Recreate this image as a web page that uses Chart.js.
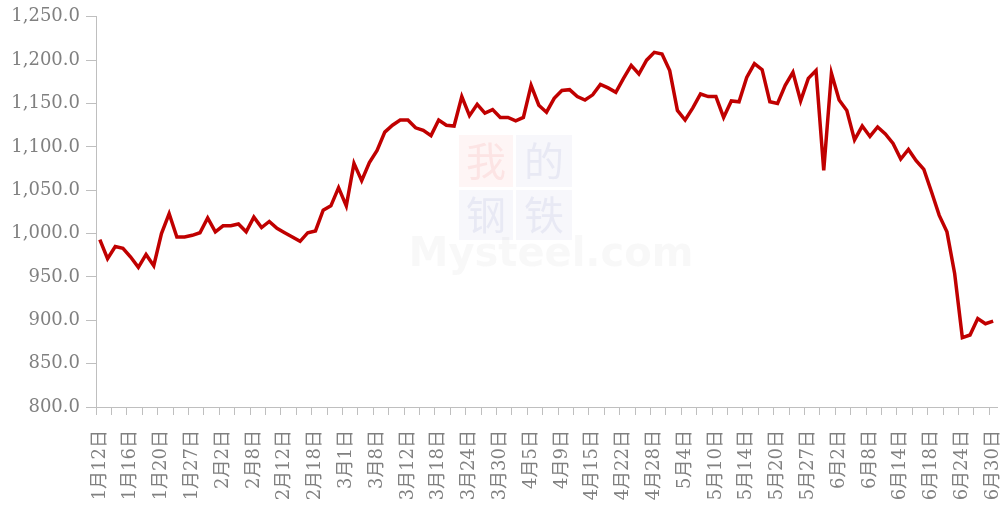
<!DOCTYPE html>
<html>
<head>
<meta charset="utf-8">
<script src="https://cdn.jsdelivr.net/npm/chart.js@4"></script>
<style>
  html, body { margin: 0; padding: 0; background: #fff; }
  #wrap { width: 1007px; height: 509px; position: relative; }
</style>
</head>
<body>
<div id="wrap"><canvas id="price"></canvas></div>
<script>
// 日期（每4个显示一个）
const dates = [
  '1月12日','1月13日','1月14日','1月15日','1月16日','1月17日','1月18日','1月19日',
  '1月20日','1月21日','1月22日','1月25日','1月27日','1月28日','1月29日','2月1日',
  '2月2日','2月3日','2月4日','2月5日','2月8日','2月9日','2月10日','2月11日',
  '2月12日','2月13日','2月16日','2月17日','2月18日','2月22日','2月24日','2月26日',
  '3月1日','3月2日','3月4日','3月5日','3月8日','3月9日','3月10日','3月11日',
  '3月12日','3月15日','3月16日','3月17日','3月18日','3月19日','3月22日','3月23日',
  '3月24日','3月25日','3月26日','3月29日','3月30日','3月31日','4月1日','4月2日',
  '4月5日','4月6日','4月7日','4月8日','4月9日','4月12日','4月13日','4月14日',
  '4月15日','4月16日','4月19日','4月21日','4月22日','4月23日','4月26日','4月27日',
  '4月28日','4月29日','4月30日','5月3日','5月4日','5月6日','5月7日','5月8日',
  '5月10日','5月11日','5月12日','5月13日','5月14日','5月17日','5月18日','5月19日',
  '5月20日','5月21日','5月24日','5月26日','5月27日','5月28日','5月31日','6月1日',
  '6月2日','6月3日','6月4日','6月7日','6月8日','6月9日','6月10日','6月11日',
  '6月14日','6月15日','6月16日','6月17日','6月18日','6月21日','6月22日','6月23日',
  '6月24日','6月25日','6月28日','6月29日','6月30日'
];

const prices = [
  993, 971, 985, 983, 973, 961, 976, 963,
  1000, 1023, 996, 996, 998, 1001, 1018, 1002,
  1009, 1009, 1011, 1002, 1019, 1007, 1014, 1006,
  1001, 996, 991, 1001, 1003, 1027, 1032, 1053,
  1032, 1081, 1061, 1082, 1096, 1117, 1125, 1131,
  1131, 1122, 1119, 1113, 1131, 1125, 1124, 1158,
  1136, 1149, 1139, 1143, 1134, 1134, 1130, 1134,
  1171, 1148, 1140, 1156, 1165, 1166, 1158, 1154,
  1160, 1172, 1168, 1163, 1179, 1194, 1184, 1200,
  1209, 1207, 1188, 1142, 1131, 1145, 1161, 1158,
  1158, 1134, 1153, 1152, 1180, 1196, 1189, 1152,
  1150, 1171, 1186, 1153, 1179, 1188, 1073, 1185,
  1154, 1142, 1108, 1124, 1112, 1123, 1115, 1104,
  1086, 1097, 1084, 1074, 1048, 1021, 1002, 954,
  880, 883, 902, 896, 899
];

const yMin = 800;
const yMax = 1250;
const yStep = 50;

const axisGray = '#bfbfbf';
const textGray = '#808080';

// 水印
const watermark = {
  id: 'watermark',
  beforeDatasetsDraw(chart) {
    const c = chart.ctx;
    c.save();
    c.fillStyle = 'rgba(230,60,60,0.05)';
    c.fillRect(459, 135, 54, 52);
    c.fillStyle = 'rgba(60,80,160,0.045)';
    c.fillRect(516, 135, 56, 52);
    c.fillRect(459, 190, 54, 50);
    c.fillRect(516, 190, 56, 50);
    c.font = '40px "Noto Sans CJK SC"';
    c.textAlign = 'center';
    c.textBaseline = 'middle';
    c.fillStyle = 'rgba(230,60,60,0.09)';
    c.fillText('我', 486, 161);
    c.fillStyle = 'rgba(60,80,160,0.08)';
    c.fillText('的', 544, 161);
    c.fillText('钢', 486, 215);
    c.fillText('铁', 544, 215);
    c.font = 'bold 40px "DejaVu Sans"';
    c.fillStyle = 'rgba(120,120,120,0.05)';
    c.fillText('Mysteel.com', 551, 256);
    c.restore();
  }
};

new Chart(document.getElementById('price'), {
  type: 'line',
  data: {
    labels: dates,
    datasets: [{
      data: prices,
      borderColor: '#c00000',
      borderWidth: 3.5,
      pointRadius: 0,
      tension: 0,
      fill: false
    }]
  },
  options: {
    responsive: true,
    maintainAspectRatio: false,
    animation: false,
    layout: { padding: { top: 16, right: 10, left: 0, bottom: 0 } },
    plugins: {
      legend: { display: false },
      tooltip: { enabled: false }
    },
    scales: {
      x: {
        offset: true,
        grid: {
          offset: true,
          drawOnChartArea: false,
          tickLength: 8,
          tickColor: ctx => (ctx.index % 2 === 0 ? axisGray : 'rgba(0,0,0,0)')
        },
        border: { color: axisGray, width: 1 },
        ticks: {
          autoSkip: false,
          minRotation: 90,
          maxRotation: 90,
          padding: 15,
          color: textGray,
          font: { family: '"DejaVu Serif", "Noto Sans CJK SC"', size: 18 },
          callback: (v, i) => (i % 4 === 0 ? dates[i] : '')
        },
        afterFit: s => {
          s.height = 102;
          s.paddingLeft = 0;
          s.paddingRight = 0;
        }
      },
      y: {
        min: yMin,
        max: yMax,
        grid: { drawOnChartArea: false, tickLength: 10, color: axisGray },
        border: { color: axisGray, width: 1 },
        ticks: {
          stepSize: yStep,
          padding: 6,
          color: textGray,
          font: { family: '"DejaVu Serif"', size: 18 },
          callback: v => v.toLocaleString('en-US', { minimumFractionDigits: 1, maximumFractionDigits: 1 })
        },
        afterFit: s => { s.width = 96; }
      }
    }
  },
  plugins: [watermark]
});
</script>
</body>
</html>
